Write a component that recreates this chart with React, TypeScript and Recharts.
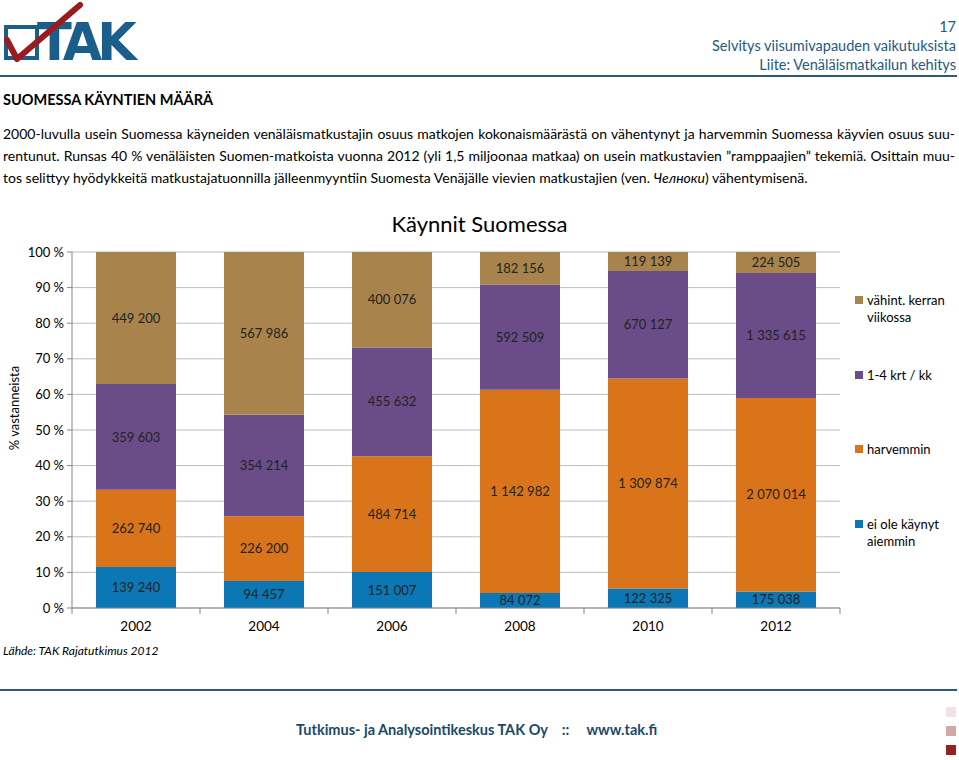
import React from 'react'
import { BarChart, Bar, XAxis, YAxis, CartesianGrid, LabelList } from 'recharts'

// Käynnit Suomessa, number of trips per group
const years = ['2002', '2004', '2006', '2008', '2010', '2012']
const eiOleKaynyt = [139240, 94457, 151007, 84072, 122325, 175038]
const harvemmin = [262740, 226200, 484714, 1142982, 1309874, 2070014]
const kertaaKk = [359603, 354214, 455632, 592509, 670127, 1335615]
const viikoittain = [449200, 567986, 400076, 182156, 119139, 224505]
const yTicks = [0, 0.1, 0.2, 0.3, 0.4, 0.5, 0.6, 0.7, 0.8, 0.9, 1]

const series = [
  { key: 'eiOle', name: 'ei ole käynyt\naiemmin', color: '#0B77B5', values: eiOleKaynyt },
  { key: 'harv', name: 'harvemmin', color: '#D9741A', values: harvemmin },
  { key: 'kk', name: '1-4 krt / kk', color: '#6A4D88', values: kertaaKk },
  { key: 'viikko', name: 'vähint. kerran\nviikossa', color: '#A8844C', values: viikoittain },
]

const data = years.map((year, i) => {
  const row: Record<string, string | number> = { year }
  series.forEach((s) => {
    row[s.key] = s.values[i]
  })
  return row
})

const font = 'Lato, "Open Sans", sans-serif'
const blue = '#1D5A83'

const formatNum = (v: number) => String(v).replace(/\B(?=(\d{3})+(?!\d))/g, ' ')

const PLOT_W = 768
const X_MARGIN = 13

// category label plus Excel-style separator ticks between categories
const XTick = (props: any) => {
  const { x, y, payload } = props
  const half = PLOT_W / years.length / 2
  const axisY = y - X_MARGIN
  return (
    <g>
      <line x1={x + half} x2={x + half} y1={axisY} y2={axisY + 6} stroke="#868686" />
      {payload.index === 0 && (
        <line x1={x - half} x2={x - half} y1={axisY} y2={axisY + 6} stroke="#868686" />
      )}
      <text x={x} y={y} dy="0.71em" textAnchor="middle" fill="#000" fontSize={13.5} fontFamily={font}>
        {payload.value}
      </text>
    </g>
  )
}

function Logo() {
  return (
    <svg width={180} height={72} style={{ position: 'absolute', left: 0, top: 0, overflow: 'visible' }}>
      <rect x={6} y={27} width={31} height={31} fill="none" stroke="#1B5E8C" strokeWidth={4} />
      <text x={37} y={60} fontSize={51} fontWeight={700} fontFamily="'DejaVu Sans', sans-serif" fill="#1B5E8C" letterSpacing={-5}>
        TAK
      </text>
      <path d="M7 40 L17 59 L80 5" fill="none" stroke="#9A1C1F" strokeWidth={6} strokeLinecap="round" strokeLinejoin="round" />
    </svg>
  )
}

export default function App() {
  const abs = (left: number, top: number): React.CSSProperties => ({ position: 'absolute', left, top })
  const legendOrder = [...series].reverse()
  const legendTops = [292, 367, 441, 516]
  return (
    <div style={{ position: 'absolute', left: 0, top: 0, width: 959, height: 760, background: '#fff', fontFamily: font, color: '#000', overflow: 'hidden' }}>
      <Logo />
      <div style={{ ...abs(690, 17), width: 266, textAlign: 'right', color: blue, fontSize: 14.5, lineHeight: '19px' }}>
        <div>17</div>
        <div>Selvitys viisumivapauden vaikutuksista</div>
        <div>Liite: Venäläismatkailun kehitys</div>
      </div>
      <div style={{ ...abs(0, 75), width: 957, height: 2, background: '#2B5A7B' }} />
      <div style={{ ...abs(3, 91), fontWeight: 700, fontSize: 14.5 }}>SUOMESSA KÄYNTIEN MÄÄRÄ</div>
      <div style={{ ...abs(3, 123), width: 952, fontSize: 14, lineHeight: '22px' }}>
        <div style={{ textAlign: 'justify', textAlignLast: 'justify', whiteSpace: 'nowrap' }}>
          2000-luvulla usein Suomessa käyneiden venäläismatkustajin osuus matkojen kokonaismäärästä on vähentynyt ja harvemmin Suomessa käyvien osuus suu-
        </div>
        <div style={{ textAlign: 'justify', textAlignLast: 'justify', whiteSpace: 'nowrap' }}>
          rentunut. Runsas 40 % venäläisten Suomen-matkoista vuonna 2012 (yli 1,5 miljoonaa matkaa) on usein matkustavien ”ramppaajien” tekemiä. Osittain muu-
        </div>
        <div style={{ whiteSpace: 'nowrap' }}>
          tos selittyy hyödykkeitä matkustajatuonnilla jälleenmyyntiin Suomesta Venäjälle vievien matkustajien (ven. <i>Челноки</i>) vähentymisenä.
        </div>
      </div>

      <div style={{ ...abs(0, 210), width: 959, textAlign: 'center', fontSize: 22 }}>Käynnit Suomessa</div>
      <div style={{ ...abs(-36, 400), width: 100, textAlign: 'center', fontSize: 13, transform: 'rotate(-90deg)', transformOrigin: '50% 50%' }}>
        % vastanneista
      </div>

      <div style={abs(0, 200)}>
        <BarChart
          width={959}
          height={460}
          data={data}
          stackOffset="expand"
          barCategoryGap="18.75%"
          margin={{ top: 52, right: 119, bottom: 22, left: 22 }}
        >
          <CartesianGrid vertical={false} stroke="#BDBDBD" />
          <XAxis
            dataKey="year"
            axisLine={{ stroke: '#868686' }}
            tickLine={false}
            tickSize={0}
            tickMargin={X_MARGIN}
            tick={<XTick />}
            interval={0}
          />
          <YAxis
            width={50}
            domain={[0, 1]}
            ticks={yTicks}
            tickFormatter={(v: number) => `${Math.round(v * 100)} %`}
            axisLine={{ stroke: '#868686' }}
            tickLine={{ stroke: '#868686' }}
            tickSize={5}
            tickMargin={3}
            tick={{ fill: '#000', fontSize: 13, fontFamily: font }}
            interval={0}
          />
          {series.map((s) => (
            <Bar key={s.key} dataKey={s.key} stackId="a" fill={s.color} isAnimationActive={false}>
              <LabelList
                dataKey={s.key}
                position="center"
                formatter={(v: any) => formatNum(Number(v))}
                fill="#222"
                fontSize={13}
                fontFamily={font}
              />
            </Bar>
          ))}
        </BarChart>
      </div>

      {legendOrder.map((s, i) => (
        <div key={s.key} style={{ ...abs(855, legendTops[i]), fontSize: 13, lineHeight: '17px', display: 'flex' }}>
          <span style={{ width: 8, height: 8, background: s.color, marginTop: 4, marginRight: 4, flex: 'none' }} />
          <span style={{ whiteSpace: 'pre' }}>{s.name}</span>
        </div>
      ))}

      <div style={{ ...abs(3, 643), fontSize: 12, fontStyle: 'italic' }}>Lähde: TAK Rajatutkimus 2012</div>
      <div style={{ ...abs(0, 689), width: 957, height: 2, background: '#2B5A7B' }} />
      <div style={{ ...abs(296, 721), fontSize: 14.5, fontWeight: 700, color: '#17496B', whiteSpace: 'pre' }}>
        {'Tutkimus- ja Analysointikeskus TAK Oy    ::     www.tak.fi'}
      </div>
      <div style={{ ...abs(946, 707), width: 10, height: 10, background: '#F1E3E4' }} />
      <div style={{ ...abs(946, 726), width: 10, height: 10, background: '#D4A6A8' }} />
      <div style={{ ...abs(946, 745), width: 10, height: 10, background: '#952125' }} />
    </div>
  )
}
